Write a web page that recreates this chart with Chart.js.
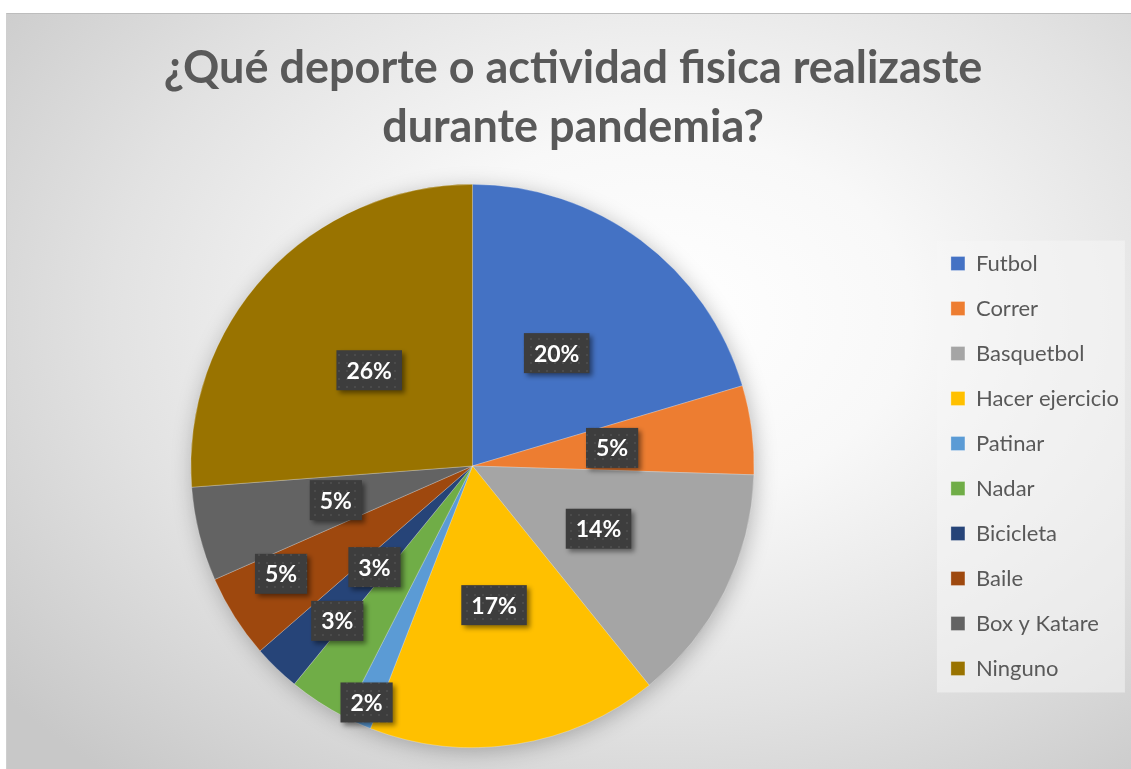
<!DOCTYPE html>
<html>
<head>
<meta charset="utf-8">
<script src="https://cdn.jsdelivr.net/npm/chart.js@4/dist/chart.umd.min.js"></script>
<style>
  html, body { margin: 0; padding: 0; background: #fff; }
  #frame {
    position: absolute; left: 6px; top: 13px; width: 1125px; height: 756px;
    box-sizing: border-box;
    border-top: 1px solid #bdbdbd; border-left: 1px solid #cfcfcf;
    background: radial-gradient(ellipse 75% 80% at 58% 40%, #ffffff 0%, #f8f8f8 30%, #e2e2e2 65%, #c8c8c8 100%);
  }
  #wrap { position: absolute; left: 0; top: 0; width: 1131px; height: 769px; }
</style>
</head>
<body>
<div id="frame"></div>
<div id="wrap"><canvas id="myChart" width="1131" height="769"></canvas></div>
<script>
const titleLines = ['¿Qué deporte o actividad fisica realizaste', 'durante pandemia?'];
const categories = ['Futbol', 'Correr', 'Basquetbol', 'Hacer ejercicio', 'Patinar', 'Nadar', 'Bicicleta', 'Baile', 'Box y Katare', 'Ninguno'];
const shares = [20.4, 5.1, 13.7, 16.7, 1.6, 3.4, 2.7, 4.8, 5.4, 26.2];
const sliceColors = ['#4472C4', '#ED7D31', '#A5A5A5', '#FFC000', '#5B9BD5', '#70AD47', '#264478', '#9E480E', '#636363', '#997300'];

// where Excel put each label: fraction of radius and angle nudge (deg)
const labelRadius = [0.5, 0.5, 0.5, 0.5, 0.92, 0.73, 0.5, 0.78, 0.5, 0.5];
const labelShift = [0, 0, 0, 0, 0, 8, 0, 3, 0, 0];

const FONT = 'Lato, "Open Sans", sans-serif';

function dotPattern(ctx) {
    let c = document.createElement('canvas');
    c.width = 8; c.height = 8;
    let p = c.getContext('2d');
    p.fillStyle = '#3d3d3d';
    p.fillRect(0, 0, 8, 8);
    p.fillStyle = '#4b4b4b';
    p.fillRect(2, 2, 2, 2);
    return ctx.createPattern(c, 'repeat');
}

const pieShadow = {
    id: 'pieShadow',
    beforeDatasetsDraw(chart) {
        let arc = chart.getDatasetMeta(0).data[0];
        if (!arc) return;
        let ctx = chart.ctx;
        ctx.save();
        ctx.shadowColor = 'rgba(0,0,0,0.28)';
        ctx.shadowBlur = 22;
        ctx.shadowOffsetX = 2;
        ctx.shadowOffsetY = 4;
        ctx.fillStyle = '#999';
        ctx.beginPath();
        ctx.arc(arc.x, arc.y, arc.outerRadius - 1, 0, Math.PI * 2);
        ctx.fill();
        ctx.restore();
    }
};

const legendPanel = {
    id: 'legendPanel',
    beforeDraw(chart) {
        let lg = chart.legend;
        if (!lg || !lg.legendHitBoxes.length) return;
        let boxes = lg.legendHitBoxes;
        let first = boxes[0], last = boxes[boxes.length - 1];
        let ctx = chart.ctx;
        ctx.save();
        ctx.fillStyle = 'rgba(245,245,245,0.55)';
        ctx.fillRect(first.left - 14, first.top - 12, 188, last.top + last.height - first.top + 25);
        ctx.restore();
    }
};

const pctLabels = {
    id: 'pctLabels',
    afterDatasetsDraw(chart) {
        let ctx = chart.ctx;
        let meta = chart.getDatasetMeta(0);
        let values = chart.data.datasets[0].data;
        let total = values.reduce((a, b) => a + b, 0);
        let pattern = dotPattern(ctx);
        ctx.save();
        ctx.font = 'bold 23px ' + FONT;
        ctx.textAlign = 'center';
        ctx.textBaseline = 'middle';
        meta.data.forEach((arc, i) => {
            let p = arc.getProps(['x', 'y', 'startAngle', 'endAngle', 'outerRadius'], true);
            let mid = (p.startAngle + p.endAngle) / 2 + labelShift[i] * Math.PI / 180;
            let r = p.outerRadius * labelRadius[i];
            let cx = p.x + Math.cos(mid) * r;
            let cy = p.y + Math.sin(mid) * r;
            let txt = Math.round(values[i] / total * 100) + '%';
            let w = ctx.measureText(txt).width + 20;
            let h = 40;
            ctx.save();
            ctx.shadowColor = 'rgba(0,0,0,0.45)';
            ctx.shadowBlur = 5;
            ctx.shadowOffsetX = 3;
            ctx.shadowOffsetY = 3;
            ctx.fillStyle = pattern;
            ctx.fillRect(cx - w / 2, cy - h / 2, w, h);
            ctx.restore();
            ctx.fillStyle = '#ffffff';
            ctx.fillText(txt, cx, cy + 1);
        });
        ctx.restore();
    }
};

let ctx = document.getElementById('myChart').getContext('2d');
new Chart(ctx, {
    type: 'pie',
    data: {
        labels: categories,
        datasets: [{
            data: shares,
            backgroundColor: sliceColors,
            borderColor: 'rgba(255,255,255,0.35)',
            borderWidth: 0.75
        }]
    },
    options: {
        responsive: false,
        animation: false,
        layout: { padding: { left: 17, right: 2, top: 0, bottom: 21 } },
        plugins: {
            title: {
                display: true,
                text: titleLines,
                color: '#595959',
                font: { family: FONT, size: 45, weight: 'bold', lineHeight: 1.311 },
                padding: { top: 38.5, bottom: 27.5 }
            },
            legend: {
                position: 'right',
                fullSize: false,
                labels: {
                    color: '#595959',
                    font: { family: FONT, size: 22 },
                    boxWidth: 14,
                    boxHeight: 14,
                    padding: 23
                }
            },
            tooltip: { enabled: false }
        }
    },
    plugins: [pieShadow, legendPanel, pctLabels]
});
</script>
</body>
</html>
